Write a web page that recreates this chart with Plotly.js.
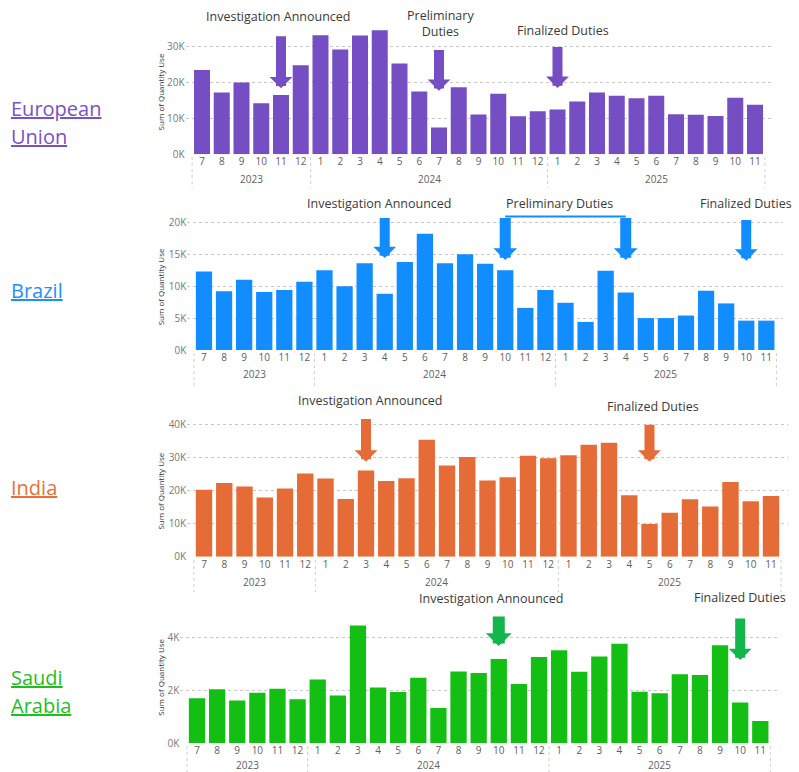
<!DOCTYPE html>
<html>
<head>
<meta charset="utf-8">
<script src="https://cdn.plot.ly/plotly-3.0.1.min.js"></script>
<style>
  html, body { margin: 0; padding: 0; background: #ffffff; }
  #chart { width: 799px; height: 772px; }
</style>
</head>
<body>
<div id="chart"></div>
<script>
// Monthly quantity use per market, Jul 2023 – Nov 2025
const monthLabels = ['7','8','9','10','11','12',
  '1','2','3','4','5','6','7','8','9','10','11','12',
  '1','2','3','4','5','6','7','8','9','10','11'];
const yearLabels = ['2023','2023','2023','2023','2023','2023',
  '2024','2024','2024','2024','2024','2024','2024','2024','2024','2024','2024','2024',
  '2025','2025','2025','2025','2025','2025','2025','2025','2025','2025','2025'];

const euUse = [23500, 17200, 20000, 14200, 16500, 24800,
  33200, 29200, 33100, 34600, 25300, 17500, 7500, 18700, 11100, 16900, 10600, 12000,
  12500, 14700, 17200, 16300, 15600, 16300, 11200, 11000, 10700, 15800, 13800];
const brazilUse = [12300, 9200, 11000, 9100, 9400, 10700,
  12500, 10000, 13600, 8800, 13800, 18200, 13600, 15000, 13500, 12500, 6600, 9400,
  7400, 4400, 12400, 9000, 5000, 5000, 5400, 9300, 7300, 4600, 4600];
const indiaUse = [20300, 22300, 21300, 17900, 20700, 25200,
  23700, 17500, 26100, 22900, 23800, 35400, 27600, 30200, 23100, 24100, 30600, 29800,
  30700, 33900, 34500, 18600, 9900, 13300, 17400, 15200, 22600, 16800, 18400];
const saudiUse = [1700, 2040, 1610, 1910, 2060, 1660,
  2410, 1800, 4460, 2110, 1940, 2480, 1330, 2720, 2660, 3190, 2240, 3270,
  3520, 2710, 3290, 3770, 1950, 1890, 2610, 2580, 3710, 1540, 840];

const W = 799, H = 772;
const px = v => v / W;
const py = v => 1 - v / H;
const FONT = '"Open Sans", "Noto Sans", "DejaVu Sans", sans-serif';

const panels = [
  {
    name: ['European', 'Union'], nameY: [108, 137], nameColor: '#7B50C8',
    values: euUse, color: '#744EC2', arrowColor: '#744EC2',
    xPx: [185.6, 771.4], yPx: [2, 154.3], yTop: 42460,
    ticks: [0, 10000, 20000, 30000], titleY: 17400,
    yearY: 179, divider: [157, 188],
    notes: [
      { text: 'Investigation Announced', x: 3.88, y: 38400 },
      { text: 'Preliminary<br>Duties', x: 12.1, y: 36500 },
      { text: 'Finalized Duties', x: 18.3, y: 34400 }
    ],
    arrows: [
      { x: 4, tip: 18400, tail: 33300, w: 10, s: 0.38 },
      { x: 12, tip: 17700, tail: 29500, w: 10, s: 0.38 },
      { x: 18, tip: 18500, tail: 30300, w: 10, s: 0.38 }
    ]
  },
  {
    name: ['Brazil'], nameY: [290], nameColor: '#1E8FFF',
    values: brazilUse, color: '#118DFF', arrowColor: '#118DFF',
    xPx: [187.3, 783], yPx: [193, 350], yTop: 24600,
    ticks: [0, 5000, 10000, 15000, 20000], titleY: 9900,
    yearY: 374, divider: [353, 386],
    notes: [
      { text: 'Investigation Announced', x: 8.76, y: 22900 },
      { text: 'Preliminary Duties', x: 17.7, y: 23000 },
      { text: 'Finalized Duties', x: 27, y: 22900 }
    ],
    arrows: [
      { x: 9, tip: 14400, tail: 20900, w: 10, s: 0.38 },
      { x: 15, tip: 14100, tail: 20900, w: 11, s: 0.36 },
      { x: 21, tip: 14100, tail: 20900, w: 11, s: 0.36 },
      { x: 27, tip: 14000, tail: 20600, w: 10, s: 0.38 }
    ],
    bracket: { x0: 15, x1: 21, y: 20900 }
  },
  {
    name: ['India'], nameY: [487], nameColor: '#E8703A',
    values: indiaUse, color: '#E66C37', arrowColor: '#E66C37',
    xPx: [187.2, 787.8], yPx: [392, 556.7], yTop: 49900,
    ticks: [0, 10000, 20000, 30000, 40000], titleY: 19900,
    yearY: 582, divider: [560, 592],
    notes: [
      { text: 'Investigation Announced', x: 8.2, y: 47300 },
      { text: 'Finalized Duties', x: 22.15, y: 45500 }
    ],
    arrows: [
      { x: 8, tip: 28800, tail: 42200, w: 10, s: 0.38 },
      { x: 22, tip: 28800, tail: 40400, w: 10, s: 0.38 }
    ]
  },
  {
    name: ['Saudi', 'Arabia'], nameY: [677, 705], nameColor: '#1FBF1F',
    values: saudiUse, color: '#14BF14', arrowColor: '#12B64A',
    xPx: [180.3, 777], yPx: [589, 743], yTop: 5850,
    ticks: [0, 2000, 4000], titleY: 2500,
    yearY: 765, divider: [746, 772],
    notes: [
      { text: 'Investigation Announced', x: 14.65, y: 5500 },
      { text: 'Finalized Duties', x: 27, y: 5520 }
    ],
    arrows: [
      { x: 15, tip: 3680, tail: 4860, w: 12, s: 0.36 },
      { x: 27, tip: 3150, tail: 4790, w: 10, s: 0.38 }
    ]
  }
];

// Year groups: centre for the label, boundaries for the dotted dividers
const idx = monthLabels.map((_, i) => i);
const yearGroups = [];
yearLabels.forEach((yr, i) => {
  const g = yearGroups[yearGroups.length - 1];
  if (g && g.year === yr) g.last = i;
  else yearGroups.push({ year: yr, first: i, last: i });
});

const traces = [];
const layout = {
  width: W, height: H,
  margin: { l: 0, r: 0, t: 0, b: 0 },
  paper_bgcolor: '#ffffff', plot_bgcolor: '#ffffff',
  showlegend: false, bargap: 0.19,
  font: { family: FONT, color: '#333333' },
  annotations: [], shapes: []
};

panels.forEach((p, k) => {
  const s = k === 0 ? '' : String(k + 1);
  const xr = 'x' + s, yr = 'y' + s;

  traces.push({
    type: 'bar', x: idx, y: p.values, xaxis: xr, yaxis: yr,
    marker: { color: p.color, line: { width: 0 } },
    hovertemplate: '%{customdata}<br>%{y:,}<extra></extra>',
    customdata: idx.map(i => yearLabels[i] + '-' + monthLabels[i])
  });

  layout['xaxis' + s] = {
    domain: [px(p.xPx[0]), px(p.xPx[1])], anchor: yr,
    range: [-0.83, idx.length - 1 + 0.83],
    tickmode: 'array', tickvals: idx, ticktext: monthLabels,
    tickfont: { size: 10, color: '#605E5C', family: FONT },
    showgrid: false, zeroline: false, showline: false, ticks: '', fixedrange: true
  };
  layout['yaxis' + s] = {
    domain: [py(p.yPx[1]), py(p.yPx[0])], anchor: xr,
    range: [0, p.yTop],
    tickmode: 'array', tickvals: p.ticks, ticktext: p.ticks.map(v => (v / 1000) + 'K'),
    tickfont: { size: 10, color: '#777777', family: FONT },
    showgrid: true, gridcolor: '#C8C8C8', griddash: 'dot', gridwidth: 1,
    zeroline: false, showline: false, ticks: '', fixedrange: true
  };

  // axis title
  layout.annotations.push({
    xref: 'paper', yref: yr, x: px(153), y: p.titleY,
    text: 'Sum of Quantity Use', textangle: -90, showarrow: false,
    font: { size: 8, color: '#333333', family: FONT }
  });

  // market name on the left
  p.name.forEach((line, j) => {
    layout.annotations.push({
      xref: 'paper', yref: 'paper', x: px(9), y: py(p.nameY[j]),
      xanchor: 'left', yanchor: 'middle',
      text: '<u>' + line + '</u>', showarrow: false,
      font: { size: 20, color: p.nameColor, family: FONT }
    });
  });

  // year labels and dividers
  yearGroups.forEach(g => {
    layout.annotations.push({
      xref: xr, yref: 'paper', x: (g.first + g.last) / 2, y: py(p.yearY),
      text: g.year, showarrow: false, yanchor: 'middle',
      font: { size: 10, color: '#605E5C', family: FONT }
    });
    layout.shapes.push({
      type: 'line', xref: xr, yref: 'paper',
      x0: g.first - 0.5, x1: g.first - 0.5, y0: py(p.divider[0]), y1: py(p.divider[1]),
      line: { color: '#CFCFCF', width: 1, dash: 'dot' }
    });
  });
  layout.shapes.push({
    type: 'line', xref: xr, yref: 'paper',
    x0: idx.length - 0.5, x1: idx.length - 0.5, y0: py(p.divider[0]), y1: py(p.divider[1]),
    line: { color: '#CFCFCF', width: 1, dash: 'dot' }
  });

  // event labels
  p.notes.forEach(n => {
    layout.annotations.push({
      xref: xr, yref: yr, x: n.x, y: n.y, text: n.text, showarrow: false,
      font: { size: 12.5, color: '#3A3A3A', family: FONT }
    });
  });

  // block arrows pointing at the event months
  p.arrows.forEach(a => {
    layout.annotations.push({
      xref: xr, yref: yr, x: a.x, y: a.tip,
      axref: xr, ayref: yr, ax: a.x, ay: a.tail,
      text: '', showarrow: true, arrowhead: 1,
      arrowwidth: a.w, arrowsize: a.s, arrowcolor: p.arrowColor, standoff: 0
    });
  });

  if (p.bracket) {
    layout.shapes.push({
      type: 'line', xref: xr, yref: yr,
      x0: p.bracket.x0, x1: p.bracket.x1, y0: p.bracket.y, y1: p.bracket.y,
      line: { color: p.arrowColor, width: 2 }
    });
  }
});

Plotly.newPlot('chart', traces, layout, { displayModeBar: false, responsive: false });
</script>
</body>
</html>
